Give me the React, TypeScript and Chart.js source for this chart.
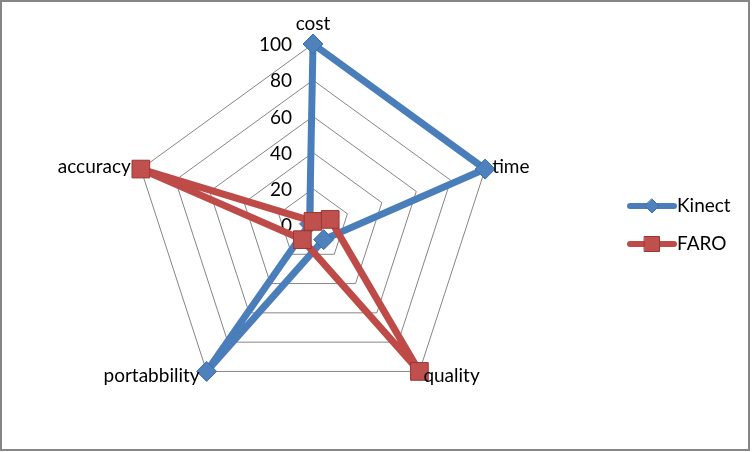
import React, { useEffect, useRef } from "react";
import { Chart, registerables } from "chart.js";

Chart.register(...registerables);

const categories = ["cost", "time", "quality", "portabbility", "accuracy"];
const kinectValues = [100, 100, 10, 100, 2];
const faroValues = [2, 10, 100, 10, 100];
const tickValues = [0, 20, 40, 60, 80, 100];
const seriesNames = ["Kinect", "FARO"];

const FONT = '19px Lato, "Open Sans", sans-serif';

const excelPlugin = {
  id: "excelRadar",
  beforeDraw(chart: any) {
    const ctx = chart.ctx;
    ctx.save();
    ctx.fillStyle = "#ffffff";
    ctx.fillRect(0, 0, chart.width, chart.height);
    ctx.strokeStyle = "#868686";
    ctx.lineWidth = 2;
    ctx.strokeRect(1, 1, chart.width - 4, chart.height - 3);
    ctx.restore();
  },
  beforeDatasetsDraw(chart: any) {
    const r = chart.scales.r;
    const ctx = chart.ctx;
    ctx.save();
    ctx.font = FONT;
    ctx.fillStyle = "#000000";
    ctx.textAlign = "right";
    ctx.textBaseline = "middle";
    tickValues.forEach((v) => {
      const p = r.getPointPosition(0, r.getDistanceFromCenterForValue(v));
      ctx.fillText(String(v), p.x - 21, p.y + 1);
    });
    ctx.restore();
  },
  afterDatasetsDraw(chart: any) {
    const r = chart.scales.r;
    const ctx = chart.ctx;
    ctx.save();
    ctx.font = FONT;
    ctx.fillStyle = "#000000";
    ctx.textBaseline = "alphabetic";
    categories.forEach((label, i) => {
      const p = r.getPointPosition(i, r.drawingArea);
      const cx = Math.cos(p.angle);
      const sy = Math.sin(p.angle);
      if (Math.abs(cx) < 0.1) {
        ctx.textAlign = "center";
        ctx.fillText(label, p.x, sy < 0 ? p.y - 14 : p.y + 28);
      } else {
        ctx.textAlign = cx > 0 ? "left" : "right";
        const dx = sy < 0 ? 7 : 4;
        const dy = sy < 0 ? 4 : 11;
        ctx.fillText(label, p.x + (cx > 0 ? dx : -dx - 3), p.y + dy);
      }
    });

    // legend
    const lx = 630;
    const lw = 44;
    const ly0 = 206;
    const lstep = 38;
    chart.data.datasets.forEach((ds: any, i: number) => {
      const y = ly0 + i * lstep;
      ctx.strokeStyle = ds.borderColor;
      ctx.lineWidth = 6;
      ctx.lineCap = "round";
      ctx.beginPath();
      ctx.moveTo(lx, y);
      ctx.lineTo(lx + lw, y);
      ctx.stroke();
      ctx.fillStyle = ds.pointBackgroundColor;
      ctx.strokeStyle = ds.pointBorderColor;
      ctx.lineWidth = 1;
      ctx.beginPath();
      const mx = lx + lw / 2;
      if (ds.pointStyle === "rectRot") {
        ctx.moveTo(mx, y - 7);
        ctx.lineTo(mx + 7, y);
        ctx.lineTo(mx, y + 7);
        ctx.lineTo(mx - 7, y);
        ctx.closePath();
      } else {
        ctx.rect(mx - 7.5, y - 7.5, 15, 15);
      }
      ctx.fill();
      ctx.stroke();
      ctx.fillStyle = "#000000";
      ctx.textAlign = "left";
      ctx.fillText(ds.label, lx + lw + 3, y + 6);
    });
    ctx.restore();
  },
};

export default function App() {
  const ref = useRef<HTMLCanvasElement | null>(null);
  useEffect(() => {
    document.body.style.margin = "0";
    if (!ref.current) return;
    const chart = new Chart(ref.current, {
      type: "radar",
      data: {
        labels: categories,
        datasets: [
          {
            label: seriesNames[0],
            data: kinectValues,
            borderColor: "#4A7EBB",
            borderWidth: 7,
            pointStyle: "rectRot",
            pointRadius: 10,
            pointBackgroundColor: "#4F81BD",
            pointBorderColor: "#3C6EAA",
            pointBorderWidth: 1,
            fill: false,
            order: 1,
          } as any,
          {
            label: seriesNames[1],
            data: faroValues,
            borderColor: "#BE4B48",
            borderWidth: 7,
            pointStyle: "rect",
            pointRadius: 12.5,
            pointBackgroundColor: "#C0504D",
            pointBorderColor: "#9A3734",
            pointBorderWidth: 1,
            fill: false,
            order: 0,
          } as any,
        ],
      },
      options: {
        responsive: false,
        animation: false,
        layout: { padding: { left: 132, right: 258, top: 44, bottom: 46 } },
        plugins: { legend: { display: false }, tooltip: { enabled: false } },
        elements: { line: { tension: 0 } },
        scales: {
          r: {
            min: 0,
            max: 100,
            ticks: { display: false, stepSize: 20 },
            grid: { color: "#868686", lineWidth: 1 },
            angleLines: {
              display: true,
              color: (c: any) => (c.index === 0 ? "#868686" : "rgba(0,0,0,0)"),
              lineWidth: 1,
            },
            pointLabels: { display: false },
          },
        },
      },
      plugins: [excelPlugin],
    });
    return () => chart.destroy();
  }, []);
  return <canvas ref={ref} width={752} height={452} style={{ display: "block", width: 752, height: 452 }} />;
}
